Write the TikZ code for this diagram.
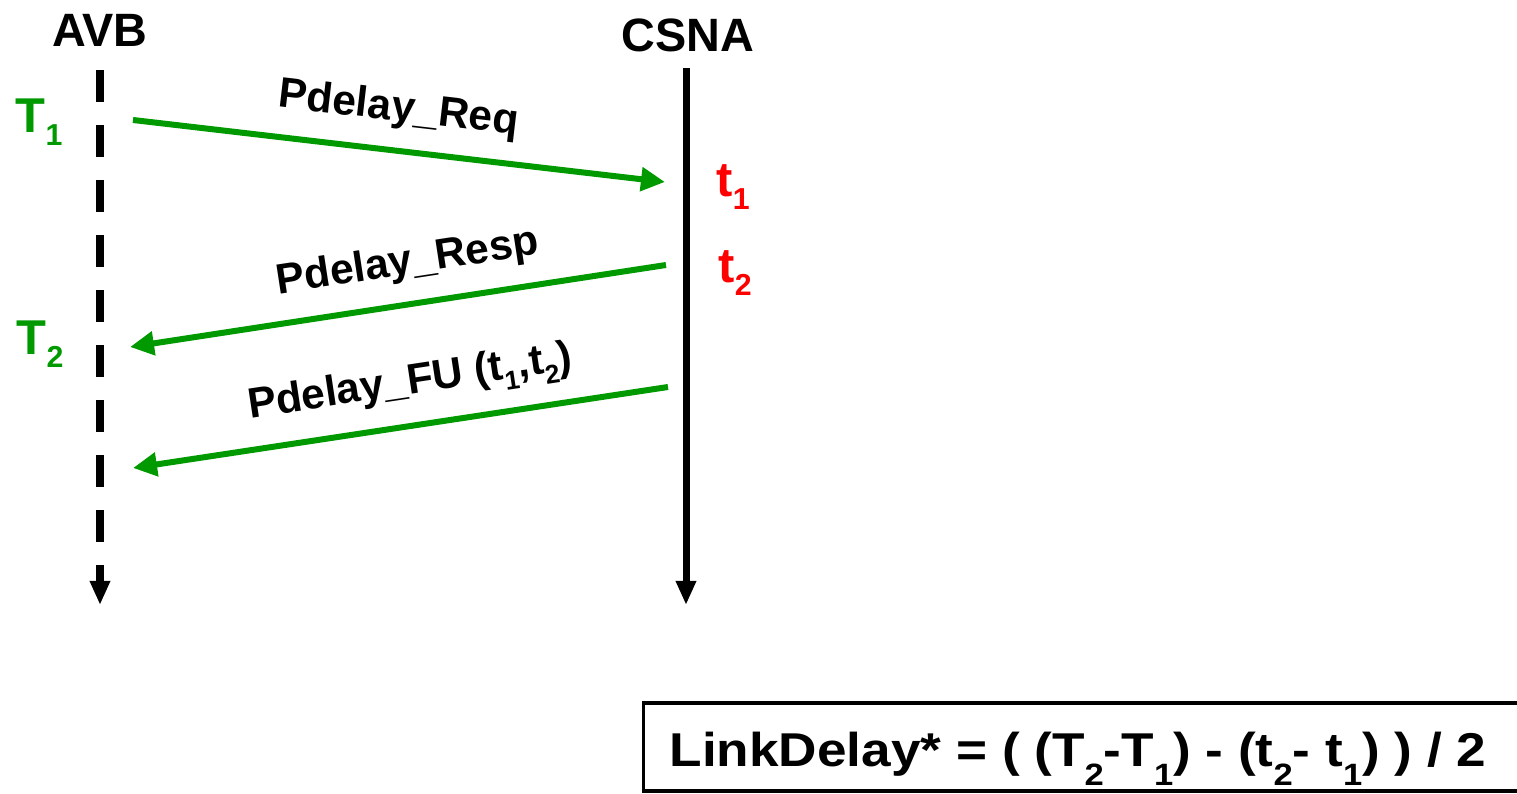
\documentclass[tikz,border=0pt]{standalone}
\usepackage{fontspec}
\setmainfont{Liberation Sans}
\newfontfamily\widefont{Liberation Sans}[FakeStretch=1.12]
\usetikzlibrary{arrows.meta}
\definecolor{msggreen}{RGB}{0,153,0}
\definecolor{stampred}{RGB}{255,0,0}
\newcommand{\lowidx}[1]{\raisebox{-0.25em}{\scalebox{0.62}{#1}}}
\newcommand{\deepidx}[1]{\raisebox{-0.4em}{\scalebox{0.65}{#1}}}

\begin{document}
\begin{tikzpicture}[x=0.01cm,y=-0.01cm,
    actor/.style={font=\fontsize{13.3}{14}\selectfont\bfseries},
    stamp/.style={font=\fontsize{13.9}{14}\selectfont\bfseries,inner sep=0pt},
    lifeline/.style={line width=0.07cm,-{Triangle[length=0.24cm,width=0.19cm]}},
    msg/.style={msggreen,line width=0.06cm,-{Triangle[length=0.24cm,width=0.23cm]}},
    msglabel/.style={black,font=\fontsize{12.1}{12}\selectfont\bfseries,inner sep=0pt,sloped,above=0.18cm}]
    \useasboundingbox (0,0) rectangle (1517,794);
    % lifelines
    \node[actor] (avb) at (100,30) {AVB};
    \node[actor] (csna) at (688,35) {CSNA};
    \coordinate (avb-top) at (100,70);
    \coordinate (avb-end) at (100,605);
    \coordinate (csna-top) at (686,68);
    \coordinate (csna-end) at (686,605);
    \draw[lifeline,dash pattern=on 0.32cm off 0.23cm] (avb-top) -- (avb-end);
    \draw[lifeline] (csna-top) -- (csna-end);
    % timestamps
    \node[stamp,msggreen,anchor=base west] (T1) at (15,133) {T\lowidx{1}};
    \node[stamp,msggreen,anchor=base west] (T2) at (16,355) {T\lowidx{2}};
    \node[stamp,stampred,anchor=base west] (t1) at (716,197) {t\lowidx{1}};
    \node[stamp,stampred,anchor=base west] (t2) at (718,283) {t\lowidx{2}};
    % messages
    \coordinate (req-a) at (133,120);
    \coordinate (req-b) at (665,182);
    \coordinate (resp-a) at (666,265);
    \coordinate (resp-b) at (130,347);
    \coordinate (fu-a) at (668,387);
    \coordinate (fu-b) at (133,468);
    \draw[msg] (req-a) -- (req-b) node[msglabel,pos=0.49] {Pdelay\_Req};
    \draw[msg] (resp-a) -- (resp-b) node[msglabel,pos=0.47] {Pdelay\_Resp};
    \draw[msg] (fu-a) -- (fu-b) node[msglabel,pos=0.47] {Pdelay\_FU (t\lowidx{1},t\lowidx{2})};
    % result
    \node[font=\widefont\fontsize{13.5}{14}\selectfont\bfseries,anchor=base] (linkdelay) at (1078,767)
        {LinkDelay* = ( (T\deepidx{2}-T\deepidx{1}) - (t\deepidx{2}- t\deepidx{1}) ) / 2};
    \draw[line width=0.03cm] (1520,703) -| (643,791) -- (1520,791);
\end{tikzpicture}
\end{document}
